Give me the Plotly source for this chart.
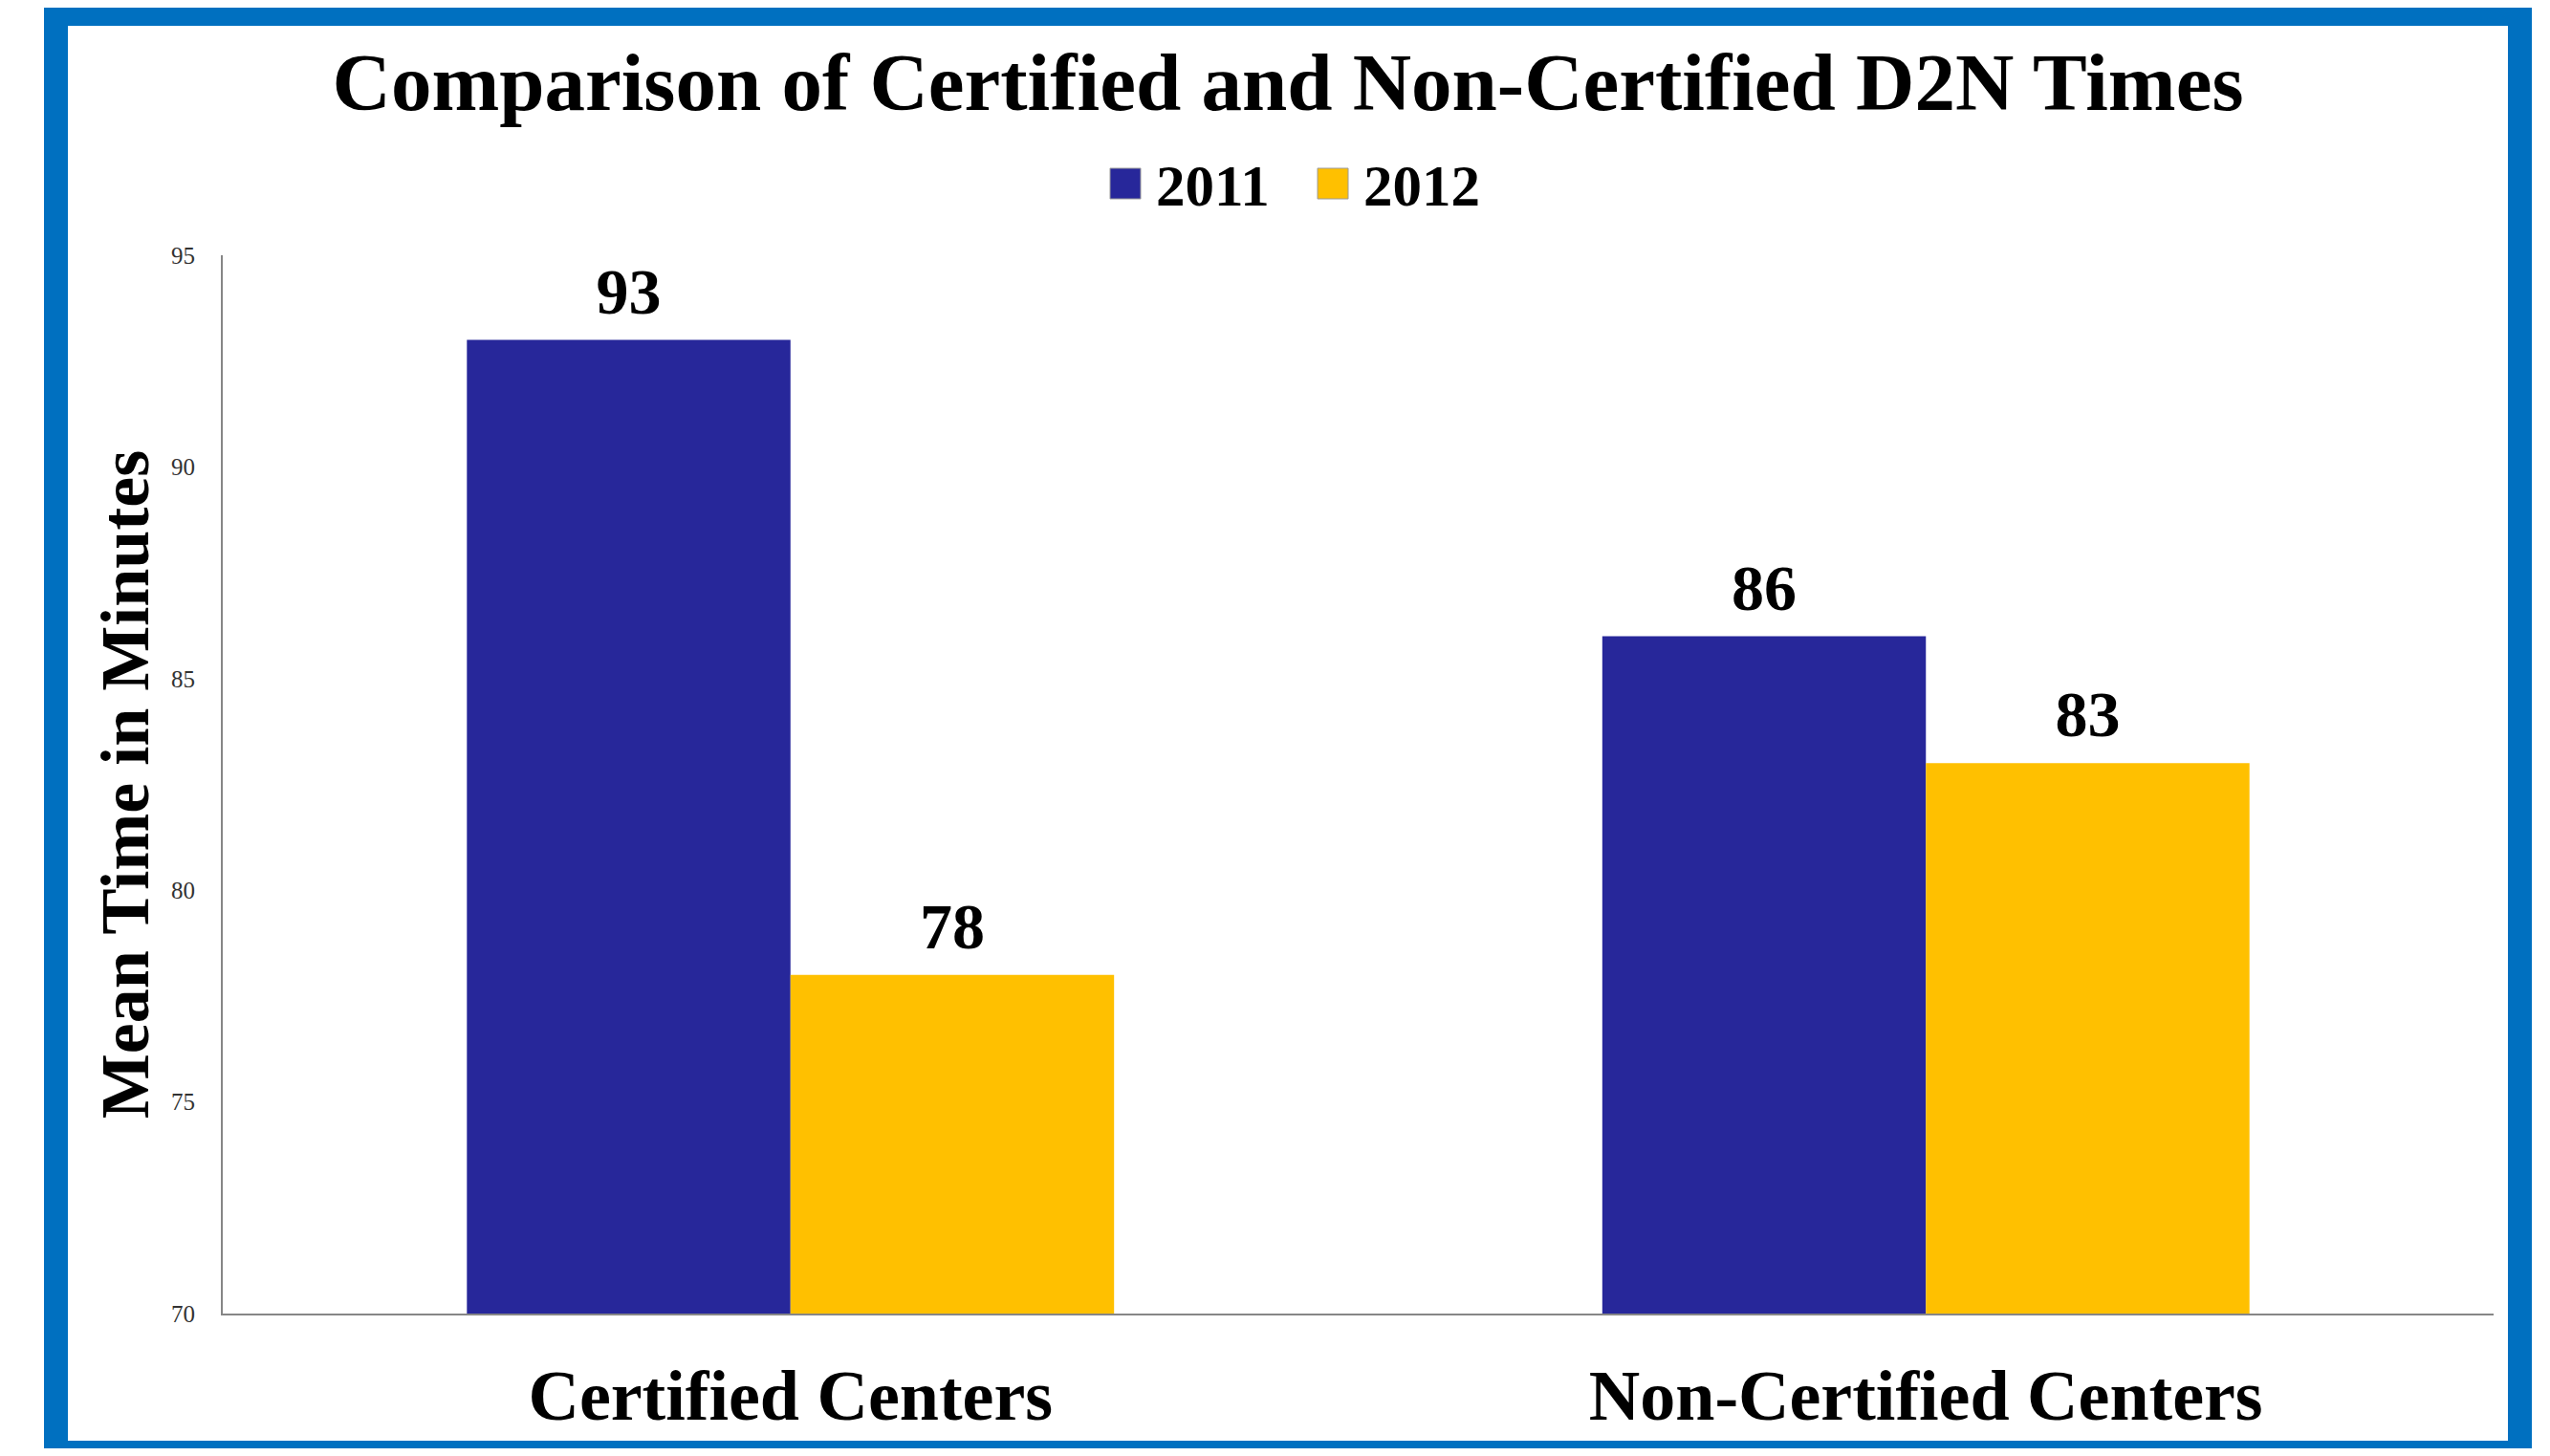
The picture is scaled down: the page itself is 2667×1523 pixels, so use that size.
import plotly.graph_objects as go

categories = ["Certified Centers", "Non-Certified Centers"]
series_names = ["2011", "2012"]
values_2011 = [93, 86]
values_2012 = [78, 83]
y_ticks = [70, 75, 80, 85, 90, 95]

colors = {"2011": "#27279A", "2012": "#FFC000"}
FONT = "Liberation Serif, Times New Roman, serif"

# page body adds an 8px offset; figure sized to fit the window without scrolling
OFF = 8
W, H = 2667 - 2 * OFF, 1523 - 2 * OFF
ML, MR, MT, MB = 233 - OFF, 2667 - 2608 - OFF, 267 - OFF, 1523 - 1374 - OFF
PW, PH = W - ML - MR, H - MT - MB


def px(x):
    """screen x (reference pixels) -> paper fraction"""
    return (x - OFF - ML) / PW


def py(y):
    """screen y (reference pixels) -> paper fraction"""
    return (H - MB - (y - OFF)) / PH


fig = go.Figure()
series = [("2011", values_2011), ("2012", values_2012)]
for name, vals in series:
    fig.add_trace(go.Bar(
        x=categories, y=vals, name=name, offsetgroup=name,
        marker=dict(color=colors[name], line=dict(width=0)),
        showlegend=False,
    ))
# value labels, grouped like the bars
for name, vals in series:
    fig.add_trace(go.Scatter(
        x=categories, y=vals, name=name, offsetgroup=name, mode="markers+text",
        marker=dict(size=16, opacity=0), text=[str(v) for v in vals],
        textposition="top center",
        textfont=dict(family=FONT, size=68, color="black", weight="bold"),
        cliponaxis=False, showlegend=False, hoverinfo="skip",
    ))

shapes = []
# outer blue frame
shapes.append(dict(type="rect", xref="paper", yref="paper",
                   x0=px(58.5), x1=px(2635.5), y0=py(1519.5), y1=py(14.5),
                   line=dict(color="#0070C0", width=25), fillcolor="rgba(0,0,0,0)",
                   layer="above"))

annotations = []
# manual legend with large squares
leg_items = [("2011", 1161), ("2012", 1378)]
for name, x0 in leg_items:
    shapes.append(dict(type="rect", xref="paper", yref="paper",
                       x0=px(x0), x1=px(x0 + 32), y0=py(208), y1=py(176),
                       fillcolor=colors[name], line=dict(color="#9a9a9a", width=1)))
    annotations.append(dict(xref="paper", yref="paper", x=px(x0 + 46), y=py(194),
                            xanchor="left", yanchor="middle", showarrow=False,
                            text=name,
                            font=dict(family=FONT, size=61, color="black", weight="bold")))

fig.update_layout(
    width=W, height=H,
    margin=dict(l=ML, r=MR, t=MT, b=MB, autoexpand=False),
    paper_bgcolor="white", plot_bgcolor="white",
    barmode="group", bargap=0.43, bargroupgap=0,
    scattermode="group", scattergap=0.43,
    title=dict(text="Comparison of Certified and Non-Certified D2N Times",
               x=(1347 - OFF) / W, xanchor="center", xref="container",
               y=1 - (85 - OFF) / H, yanchor="middle", yref="container",
               font=dict(family=FONT, size=85, color="black", weight="bold")),
    shapes=shapes, annotations=annotations,
    xaxis=dict(showline=True, linecolor="#868686", linewidth=2, ticks="",
               tickfont=dict(family=FONT, size=74, color="black", weight="bold"),
               ticklabelstandoff=20, showgrid=False, zeroline=False),
    yaxis=dict(range=[70, 95], tickvals=y_ticks, showline=True, linecolor="#868686",
               linewidth=2, ticks="", showgrid=False, zeroline=False,
               tickfont=dict(family=FONT, size=25, color="#333333"),
               ticklabelstandoff=22,
               title=dict(text="Mean Time in Minutes", standoff=0,
                          font=dict(family=FONT, size=72, color="black", weight="bold"))),
)

fig.write_html("out.html")
